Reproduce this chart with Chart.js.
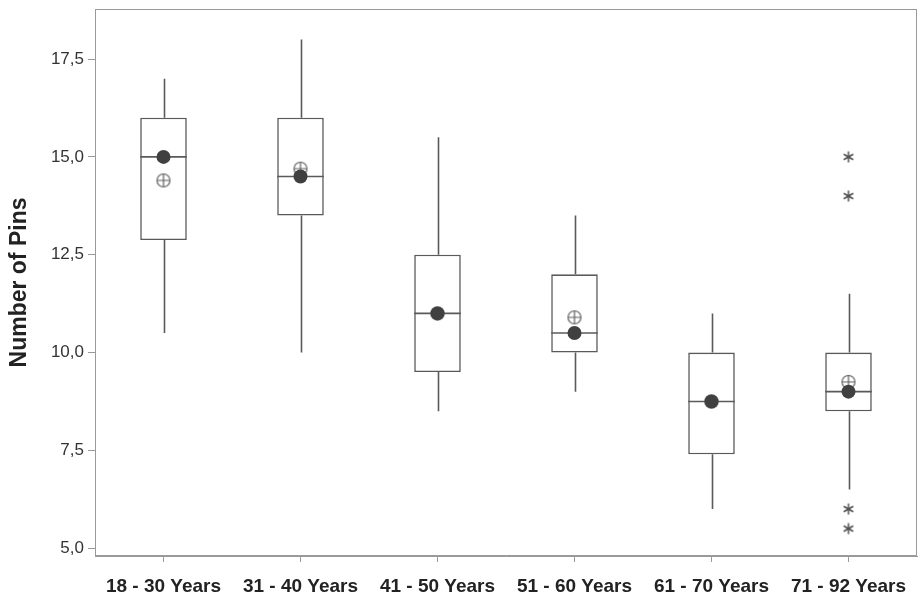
<!DOCTYPE html>
<html><head><meta charset="utf-8">
<script src="https://cdn.jsdelivr.net/npm/chart.js@4.4.1/dist/chart.umd.min.js"></script>
<style>html,body{margin:0;padding:0;background:#fff;}</style>
</head><body>
<canvas id="c" width="920" height="595"></canvas>
<script>
const categories = ['18 - 30 Years','31 - 40 Years','41 - 50 Years','51 - 60 Years','61 - 70 Years','71 - 92 Years'];
const whiskerLow  = [10.5, 10, 8.5, 9, 6, 6.5];
const q1          = [12.875, 13.5, 9.5, 10, 7.4, 8.5];
const medians     = [15, 14.5, 11, 10.5, 8.75, 9];
const q3          = [16, 16, 12.5, 12, 10, 10];
const whiskerHigh = [17, 18, 15.5, 13.5, 11, 11.5];
const means       = [14.4, 14.7, 11.0, 10.9, 8.75, 9.25];
const outlierGroup = '71 - 92 Years';
const outlierValues = [15, 14, 6, 5.5];
const yTicks = [5, 7.5, 10, 12.5, 15, 17.5];

const LINE = '#5a5a5a';

function makeAsterisk() {
  const c = document.createElement('canvas'); c.width = 14; c.height = 14;
  const g = c.getContext('2d'); g.strokeStyle = '#505050'; g.lineWidth = 1.5;
  const r = 5.5;
  [90, 30, 150].forEach(a => {
    const t = a * Math.PI / 180;
    g.beginPath(); g.moveTo(7 - r*Math.cos(t), 7 - r*Math.sin(t)); g.lineTo(7 + r*Math.cos(t), 7 + r*Math.sin(t)); g.stroke();
  });
  return c;
}
function makeCrossCircle() {
  const c = document.createElement('canvas'); c.width = 16; c.height = 16;
  const g = c.getContext('2d'); g.strokeStyle = '#606060'; g.lineWidth = 1.2;
  g.beginPath(); g.arc(8, 8, 6.5, 0, Math.PI*2); g.stroke();
  g.beginPath(); g.moveTo(1.5, 8); g.lineTo(14.5, 8); g.moveTo(8, 1.5); g.lineTo(8, 14.5); g.stroke();
  return c;
}

const boxPlugin = {
  id: 'boxParts',
  beforeDatasetsDraw(chart) {
    const {ctx, chartArea: a, scales: {x, y}} = chart;
    ctx.save();
    ctx.strokeStyle = LINE; ctx.lineWidth = 1.6;
    categories.forEach((c, i) => {
      const px = Math.round(x.getPixelForValue(i)) + 0.5;
      ctx.beginPath();
      ctx.moveTo(px, y.getPixelForValue(whiskerLow[i])); ctx.lineTo(px, y.getPixelForValue(q1[i]));
      ctx.moveTo(px, y.getPixelForValue(q3[i])); ctx.lineTo(px, y.getPixelForValue(whiskerHigh[i]));
      ctx.stroke();
    });
    ctx.strokeStyle = '#9a9a9a'; ctx.lineWidth = 1;
    ctx.strokeRect(a.left + 0.5, a.top + 0.5, a.right - a.left - 1, a.bottom - a.top - 1);
    ctx.restore();
  },
  afterDatasetDraw(chart, args) {
    if (args.index !== 3) return;
    const {ctx, scales: {y}} = chart;
    const meta = chart.getDatasetMeta(3);
    ctx.save(); ctx.strokeStyle = LINE; ctx.lineWidth = 1.6;
    meta.data.forEach((bar, i) => {
      const py = y.getPixelForValue(medians[i]);
      ctx.beginPath(); ctx.moveTo(bar.x - bar.width/2, py); ctx.lineTo(bar.x + bar.width/2, py); ctx.stroke();
    });
    ctx.restore();
  }
};

new Chart(document.getElementById('c'), {
  type: 'bar',
  data: {
    labels: categories,
    datasets: [
      { type: 'line', label: 'Outliers', data: outlierValues.map(v => ({x: outlierGroup, y: v})),
        showLine: false, pointStyle: makeAsterisk(), pointRadius: 7 },
      { type: 'line', label: 'Median', data: medians, showLine: false,
        pointStyle: 'circle', pointRadius: 7, pointBackgroundColor: '#404040', pointBorderWidth: 0 },
      { type: 'line', label: 'Mean', data: means, showLine: false, pointStyle: makeCrossCircle(), pointRadius: 8 },
      { type: 'bar', label: 'IQR', data: categories.map((c, i) => [q1[i], q3[i]]),
        backgroundColor: '#ffffff', borderColor: LINE, borderWidth: 1.6, borderSkipped: false,
        barPercentage: 0.34, categoryPercentage: 1 }
    ]
  },
  options: {
    responsive: false, animation: false,
    layout: { autoPadding: false, padding: { top: 9, right: 3, left: 0, bottom: 0 } },
    plugins: { legend: { display: false }, tooltip: { enabled: false } },
    scales: {
      x: {
        offset: true,
        grid: { offset: false, drawOnChartArea: false, drawTicks: true, tickLength: 6, color: '#9a9a9a' },
        border: { display: true, color: '#9a9a9a' },
        ticks: { color: '#222', padding: 13, maxRotation: 0, font: { family: 'Liberation Sans', size: 19, weight: 'bold' } },
        afterFit(s) { s.height = 39; s.paddingLeft = 0; s.paddingRight = 0; }
      },
      y: {
        min: 4.8, max: 18.78,
        afterBuildTicks(s) { s.ticks = yTicks.map(v => ({ value: v })); },
        grid: { drawOnChartArea: false, drawTicks: true, tickLength: 7, color: '#9a9a9a' },
        border: { display: true, color: '#9a9a9a' },
        ticks: { color: '#333', padding: 4, font: { family: 'Liberation Sans', size: 17 },
          callback: v => Number(v).toFixed(1).replace('.', ',') },
        title: { display: true, text: 'Number of Pins', color: '#222', padding: { top: 6, bottom: 0 },
          font: { family: 'Liberation Sans', size: 23, weight: 'bold' } },
        afterFit(s) { s.width = 95; s.paddingTop = 0; s.paddingBottom = 0; }
      }
    }
  },
  plugins: [boxPlugin]
});
</script>
</body></html>
